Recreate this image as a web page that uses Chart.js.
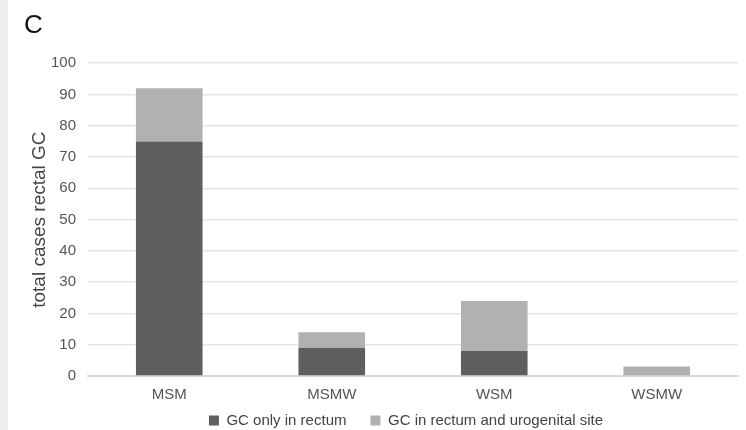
<!DOCTYPE html>
<html>
<head>
<meta charset="utf-8">
<script src="https://cdn.jsdelivr.net/npm/chart.js@4/dist/chart.umd.min.js"></script>
<style>
html,body{margin:0;padding:0;background:#fff;}
#wrap{position:relative;width:746px;height:430px;overflow:hidden;}
#strip{position:absolute;left:0;top:0;width:8px;height:430px;background:#ededed;}
canvas{position:absolute;left:0;top:0;}
</style>
</head>
<body>
<div id="wrap"><div id="strip"></div><canvas id="c" width="746" height="430"></canvas></div>
<script>
const categories = ["MSM", "MSMW", "WSM", "WSMW"];
const onlyRectum = [75, 9, 8, 0];
const rectumAndUrogenital = [17, 5, 16, 3];
const seriesNames = ["GC only in rectum", "GC in rectum and urogenital site"];
const yTitle = "total cases rectal GC";
const panelLabel = "C";

const fontFam = "'Liberation Sans', Arial, Helvetica, sans-serif";

// Let the legend keep wide horizontal spacing while sitting close under the axis labels
const legendTweak = {
  id: 'legendTweak',
  beforeLayout(chart) {
    const lg = chart.legend;
    if (lg && !lg._tweaked) {
      const orig = lg.fit.bind(lg);
      lg.fit = function () { orig(); this.height = 26; };
      lg._tweaked = true;
    }
  },
  afterLayout(chart) {
    const lg = chart.legend;
    if (lg) {
      lg.top -= 15; lg.height = lg.bottom - lg.top;
      lg.left += 25; lg.right += 25;
    }
  }
};

new Chart(document.getElementById('c'), {
  type: 'bar',
  data: {
    labels: categories,
    datasets: [
      { label: seriesNames[0], data: onlyRectum, backgroundColor: '#5f5f5f', barPercentage: 0.41, categoryPercentage: 1 },
      { label: seriesNames[1], data: rectumAndUrogenital, backgroundColor: '#b1b1b1', barPercentage: 0.41, categoryPercentage: 1 }
    ]
  },
  plugins: [legendTweak],
  options: {
    responsive: false,
    animation: false,
    layout: { padding: { left: 24, right: 8, top: 8, bottom: 0 } },
    plugins: {
      title: { display: true, text: panelLabel, align: 'start', color: '#111', font: { family: fontFam, size: 26, weight: 'normal' }, padding: { top: 2, bottom: 22 } },
      legend: {
        position: 'bottom',
        labels: { boxWidth: 10, boxHeight: 10, color: '#444', font: { family: fontFam, size: 15 }, padding: 24 }
      },
      tooltip: { enabled: false }
    },
    scales: {
      x: {
        stacked: true,
        grid: { display: false, drawTicks: false },
        border: { display: true, color: '#d9d9d9', width: 2 },
        ticks: { color: '#555', font: { family: fontFam, size: 15 }, padding: 10 },
        afterFit: (s) => { s.height = 28; }
      },
      y: {
        stacked: true,
        min: 0, max: 100,
        ticks: { stepSize: 10, color: '#555', font: { family: fontFam, size: 15 }, padding: 12 },
        grid: { color: '#e5e5e5', lineWidth: 1.5, drawTicks: false },
        border: { display: false },
        title: { display: true, text: yTitle, color: '#444', font: { family: fontFam, size: 19 }, padding: { top: 4, bottom: 0 } },
        afterFit: (s) => { s.width = 64; }
      }
    }
  }
});
</script>
</body>
</html>
